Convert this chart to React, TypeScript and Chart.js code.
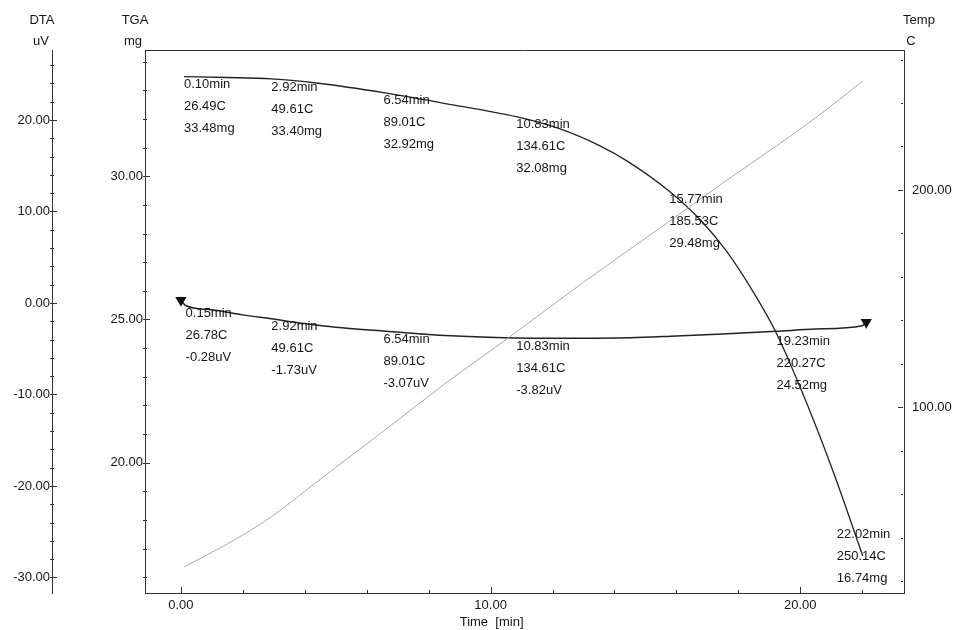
import React, { useEffect, useRef } from "react";
import { Chart, registerables } from "chart.js";

Chart.register(...registerables);

// ---- data ----
const TGA_TIME = [0.1, 1.5, 2.92, 4.5, 6.54, 8.5, 10.83, 12.2, 13.5, 14.4, 15.77, 16.8, 17.6, 18.5, 19.23, 20.2, 21.1, 22.02];
const TGA_MASS = [33.48, 33.45, 33.4, 33.24, 32.92, 32.55, 32.08, 31.67, 31.08, 30.54, 29.48, 28.45, 27.41, 25.93, 24.52, 22.1, 19.58, 16.74];

const DTA_TIME = [0, 0.15, 1, 2, 2.92, 4, 5, 6.54, 8, 9.5, 10.83, 12.5, 14.5, 16, 17.5, 19.23, 20.5, 22.0, 22.13];
const DTA_VALUE = [0.3, -0.28, -0.75, -1.3, -1.73, -2.25, -2.65, -3.07, -3.45, -3.7, -3.82, -3.85, -3.8, -3.6, -3.38, -3.1, -2.85, -2.5, -2.1];

const TEMP_TIME = [0.1, 1, 2, 2.92, 4, 5, 6.54, 8.5, 10.83, 13, 15.77, 17.5, 19.23, 20.5, 22.02];
const TEMP_VALUE = [26.49, 33.2, 41.2, 49.61, 61.3, 72.3, 89.01, 110.5, 134.61, 157.5, 185.53, 203.2, 220.27, 233.2, 250.14];

// annotation marks
const TGA_MARK_TIME = [0.1, 2.92, 6.54, 10.83, 15.77, 19.23, 22.02];
const TGA_MARK_TEMP = [26.49, 49.61, 89.01, 134.61, 185.53, 220.27, 250.14];
const TGA_MARK_MASS = [33.48, 33.4, 32.92, 32.08, 29.48, 24.52, 16.74];

const DTA_MARK_TIME = [0.15, 2.92, 6.54, 10.83];
const DTA_MARK_TEMP = [26.78, 49.61, 89.01, 134.61];
const DTA_MARK_VALUE = [-0.28, -1.73, -3.07, -3.82];

// tick labels
const X_MAJOR = [0, 10, 20];
const X_MINOR_STEP = 2;
const DTA_MAJOR = [-30, -20, -10, 0, 10, 20];
const DTA_MINOR_STEP = 2;
const TGA_MAJOR = [20, 25, 30];
const TGA_MINOR_STEP = 1;
const TEMP_MAJOR = [100, 200];
const TEMP_MINOR_STEP = 20;

const FONT = '"Liberation Sans", Arial, sans-serif';
const INK = "#161616";

const isMajor = (majors: number[], v: number) => majors.some((m) => Math.abs(m - v) < 1e-6);
const makeTicks = (min: number, max: number, step: number) => {
  const out: { value: number }[] = [];
  const start = Math.ceil(min / step - 1e-9);
  for (let k = start; k * step <= max + 1e-9; k++) out.push({ value: +(k * step).toFixed(6) });
  return out;
};

const MAJORS: Record<string, number[]> = { x: X_MAJOR, dta: DTA_MAJOR, tga: TGA_MAJOR, temp: TEMP_MAJOR };
const STEPS: Record<string, number> = { x: X_MINOR_STEP, dta: DTA_MINOR_STEP, tga: TGA_MINOR_STEP, temp: TEMP_MINOR_STEP };

const decorPlugin = {
  id: "decor",
  afterDraw(chart: any) {
    const ctx = chart.ctx;
    const { chartArea } = chart;
    const xs = chart.scales.x;
    const dta = chart.scales.dta;
    const tga = chart.scales.tga;
    const temp = chart.scales.temp;
    ctx.save();
    // top border
    ctx.strokeStyle = "#333";
    ctx.lineWidth = 1;
    ctx.beginPath();
    ctx.moveTo(chartArea.left, chartArea.top + 0.5);
    ctx.lineTo(chartArea.right, chartArea.top + 0.5);
    ctx.stroke();

    // tick marks (pointing inward)
    const drawTicks = (scale: any, id: string) => {
      const majors = MAJORS[id];
      ctx.beginPath();
      for (const t of scale.ticks) {
        const len = isMajor(majors, t.value) ? 6 : 3;
        const p = Math.round(scale.getPixelForValue(t.value)) + 0.5;
        if (id === "x") {
          ctx.moveTo(p, scale.top);
          ctx.lineTo(p, scale.top - len);
        } else if (id === "temp") {
          ctx.moveTo(scale.left - 1, p);
          ctx.lineTo(scale.left - len, p);
        } else {
          ctx.moveTo(scale.right - 2, p);
          ctx.lineTo(scale.right + len - 1, p);
        }
      }
      ctx.stroke();
    };
    drawTicks(xs, "x");
    drawTicks(dta, "dta");
    drawTicks(tga, "tga");
    drawTicks(temp, "temp");

    // axis titles
    ctx.fillStyle = INK;
    ctx.font = `13px ${FONT}`;
    ctx.textAlign = "center";
    ctx.textBaseline = "middle";
    ctx.fillText("DTA", dta.right - 10, 20);
    ctx.fillText("uV", dta.right - 11, 41);
    ctx.fillText("TGA", tga.right - 10, 20);
    ctx.fillText("mg", tga.right - 12, 41);
    ctx.fillText("Temp", temp.left + 15, 20);
    ctx.fillText("C", temp.left + 7, 41);
    ctx.fillText("Time  [min]", xs.getPixelForValue(10) + 1, 622);

    // annotation blocks
    const block = (x: number, y: number, lines: string[]) => {
      ctx.textAlign = "left";
      let y0 = y + 8;
      let x0 = x;
      if (y0 + 44 + 8 > chartArea.bottom) {
        y0 = y - 22;
        x0 = x - 26;
      }
      lines.forEach((s, i) => ctx.fillText(s, x0, y0 + i * 22));
    };
    TGA_MARK_TIME.forEach((t, i) => {
      block(xs.getPixelForValue(t), tga.getPixelForValue(TGA_MARK_MASS[i]), [
        `${t.toFixed(2)}min`,
        `${TGA_MARK_TEMP[i].toFixed(2)}C`,
        `${TGA_MARK_MASS[i].toFixed(2)}mg`,
      ]);
    });
    DTA_MARK_TIME.forEach((t, i) => {
      block(xs.getPixelForValue(t), dta.getPixelForValue(DTA_MARK_VALUE[i]), [
        `${t.toFixed(2)}min`,
        `${DTA_MARK_TEMP[i].toFixed(2)}C`,
        `${DTA_MARK_VALUE[i].toFixed(2)}uV`,
      ]);
    });
    ctx.restore();
  },
};

const tickOpts = (id: string, padding: number) => ({
  autoSkip: false,
  maxRotation: 0,
  padding,
  color: INK,
  font: { family: FONT, size: 13 },
  callback: (v: any) => (isMajor(MAJORS[id], Number(v)) ? Number(v).toFixed(2) : ""),
});

export default function App() {
  const ref = useRef<HTMLCanvasElement | null>(null);
  useEffect(() => {
    if (!ref.current) return;
    const pts = (xs: number[], ys: number[]) => xs.map((x, i) => ({ x, y: ys[i] }));
    const lastDta = DTA_TIME.length - 1;
    const chart = new Chart(ref.current, {
      type: "line",
      data: {
        datasets: [
          {
            label: "Temp",
            data: pts(TEMP_TIME, TEMP_VALUE),
            yAxisID: "temp",
            borderColor: "#a9a9a9",
            borderWidth: 1,
            pointRadius: 0,
            cubicInterpolationMode: "monotone",
          },
          {
            label: "DTA",
            data: pts(DTA_TIME, DTA_VALUE),
            yAxisID: "dta",
            borderColor: "#222",
            borderWidth: 1.5,
            pointStyle: "triangle",
            rotation: 180,
            pointRadius: (c: any) => (c.dataIndex === 0 || c.dataIndex === lastDta ? 5 : 0),
            pointBackgroundColor: "#111",
            pointBorderColor: "#111",
            cubicInterpolationMode: "monotone",
          },
          {
            label: "TGA",
            data: pts(TGA_TIME, TGA_MASS),
            yAxisID: "tga",
            borderColor: "#222",
            borderWidth: 1.3,
            pointRadius: 0,
            cubicInterpolationMode: "monotone",
          },
        ],
      },
      options: {
        animation: false,
        responsive: false,
        layout: { padding: { top: 50, left: 0, right: 0, bottom: 0 } },
        plugins: { legend: { display: false }, tooltip: { enabled: false } },
        scales: {
          x: {
            type: "linear",
            position: "bottom",
            min: -1.16,
            max: 23.35,
            grid: { display: false, drawTicks: false },
            border: { display: true, color: "#333", width: 1 },
            ticks: tickOpts("x", 5),
            afterBuildTicks: (s: any) => { s.ticks = makeTicks(s.min, s.max, STEPS.x); },
            afterFit: (s: any) => { s.height = 37; },
          },
          dta: {
            type: "linear",
            position: "left",
            weight: 1,
            min: -31.7,
            max: 27.65,
            grid: { display: false, drawTicks: false },
            border: { display: true, color: "#333", width: 1 },
            ticks: tickOpts("dta", 2),
            afterBuildTicks: (s: any) => { s.ticks = makeTicks(s.min, s.max, STEPS.dta); },
            afterFit: (s: any) => { s.width = 52; },
          },
          tga: {
            type: "linear",
            position: "left",
            weight: 0,
            min: 15.45,
            max: 34.41,
            grid: { display: false, drawTicks: false },
            border: { display: true, color: "#333", width: 1 },
            ticks: tickOpts("tga", 2),
            afterBuildTicks: (s: any) => { s.ticks = makeTicks(s.min, s.max, STEPS.tga); },
            afterFit: (s: any) => { s.width = 93; },
          },
          temp: {
            type: "linear",
            position: "right",
            min: 14.5,
            max: 264.4,
            grid: { display: false, drawTicks: false },
            border: { display: true, color: "#333", width: 1 },
            ticks: tickOpts("temp", 8),
            afterBuildTicks: (s: any) => { s.ticks = makeTicks(s.min, s.max, STEPS.temp); },
            afterFit: (s: any) => { s.width = 55; },
          },
        },
      } as any,
      plugins: [decorPlugin],
    });
    return () => chart.destroy();
  }, []);
  return (
    <div style={{ position: "fixed", left: 0, top: 0, width: 959, height: 630, background: "#fff" }}>
      <canvas ref={ref} width={959} height={630} style={{ display: "block" }} />
    </div>
  );
}
